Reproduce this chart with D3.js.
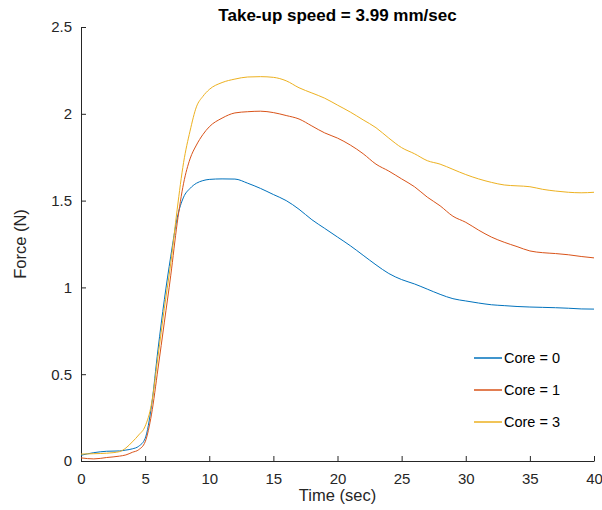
<!DOCTYPE html>
<html lang="en">
<head>
    <meta charset="UTF-8">
    <title>Take-up speed = 3.99 mm/sec</title>
    <script src="https://d3js.org/d3.v7.min.js"></script>
    <style>
        body { margin: 0; background: #fff; font-family: "Liberation Sans", Arial, sans-serif; }
        svg { display: block; }
        .axis path, .axis line { stroke: #262626; }
        .axis text { fill: #262626; font-size: 15px; font-family: "Liberation Sans", Arial, sans-serif; }
    </style>
</head>
<body>
    <svg id="chart" width="602" height="510"></svg>

    <script>
        // time samples (sec)
        const time = [0, 1, 2, 3, 3.5, 4, 4.5, 5, 5.5, 6, 6.5, 7, 7.5, 8, 8.5, 9, 9.5, 10,
            11, 12, 13, 14, 15, 16, 17, 18, 19, 20, 21, 22, 23, 24, 25, 26, 27, 28, 29, 30,
            31, 32, 33, 34, 35, 36, 37, 38, 39, 40];

        // force (N)
        const core0 = [0.033, 0.048, 0.056, 0.058, 0.063, 0.07, 0.085, 0.13, 0.32, 0.64, 0.93, 1.18, 1.40, 1.52, 1.57, 1.60, 1.615, 1.622,
            1.625, 1.624, 1.60, 1.57, 1.535, 1.50, 1.45, 1.39, 1.34, 1.29, 1.24, 1.185, 1.13, 1.08, 1.045, 1.02, 0.99, 0.96, 0.935, 0.922,
            0.91, 0.90, 0.895, 0.89, 0.887, 0.885, 0.883, 0.88, 0.876, 0.875];
        const core1 = [0.018, 0.012, 0.02, 0.028, 0.035, 0.05, 0.065, 0.11, 0.27, 0.53, 0.80, 1.07, 1.37, 1.60, 1.74, 1.82, 1.88, 1.925,
            1.975, 2.005, 2.012, 2.015, 2.007, 1.99, 1.97, 1.93, 1.89, 1.86, 1.82, 1.77, 1.71, 1.67, 1.625, 1.58, 1.52, 1.47, 1.41, 1.375,
            1.33, 1.29, 1.26, 1.235, 1.21, 1.20, 1.195, 1.188, 1.178, 1.17];
        const core3 = [0.04, 0.042, 0.045, 0.054, 0.075, 0.11, 0.15, 0.20, 0.33, 0.60, 0.88, 1.14, 1.45, 1.72, 1.90, 2.04, 2.10, 2.14,
            2.18, 2.20, 2.212, 2.214, 2.21, 2.19, 2.15, 2.12, 2.09, 2.05, 2.01, 1.965, 1.92, 1.86, 1.805, 1.77, 1.73, 1.71, 1.68, 1.65,
            1.625, 1.605, 1.59, 1.585, 1.58, 1.565, 1.555, 1.548, 1.545, 1.548];

        const seriesNames = ["Core = 0", "Core = 1", "Core = 3"];
        const xTicks = [0, 5, 10, 15, 20, 25, 30, 35, 40];
        const yTicks = [0, 0.5, 1, 1.5, 2, 2.5];

        const colors = ["#0072BD", "#D95319", "#EDB120"];
        const allSeries = [core0, core1, core3];

        const margin = { left: 81, right: 8, top: 27, bottom: 49 };
        const width = 602, height = 510;

        const svg = d3.select("#chart");

        const x = d3.scaleLinear().domain([0, 40]).range([margin.left, width - margin.right]);
        const y = d3.scaleLinear().domain([0, 2.5]).range([height - margin.bottom, margin.top]);

        // axes, ticks pointing inward like matlab
        svg.append("g")
            .attr("class", "axis")
            .attr("transform", `translate(0,${y(0)})`)
            .call(d3.axisBottom(x).tickValues(xTicks).tickSizeInner(-5).tickSizeOuter(0).tickPadding(12))
            .call(g => g.selectAll("text").attr("dy", "0.71em"));

        svg.append("g")
            .attr("class", "axis")
            .attr("transform", `translate(${x(0)},0)`)
            .call(d3.axisLeft(y).tickValues(yTicks).tickSizeInner(-5).tickSizeOuter(0).tickPadding(9)
                .tickFormat(d3.format("")));

        const line = d3.line()
            .x((d, i) => x(time[i]))
            .y(d => y(d))
            .curve(d3.curveMonotoneX);

        svg.append("g").selectAll("path")
            .data(allSeries)
            .enter().append("path")
            .attr("d", line)
            .attr("fill", "none")
            .attr("stroke", (d, i) => colors[i])
            .attr("stroke-width", 1);

        // title and labels
        svg.append("text")
            .attr("x", (x(0) + x(40)) / 2)
            .attr("y", 21)
            .attr("text-anchor", "middle")
            .attr("font-size", 17)
            .attr("font-weight", "bold")
            .attr("fill", "#000")
            .text("Take-up speed = 3.99 mm/sec");

        svg.append("text")
            .attr("x", (x(0) + x(40)) / 2)
            .attr("y", 501)
            .attr("text-anchor", "middle")
            .attr("font-size", 16.5)
            .attr("fill", "#262626")
            .text("Time (sec)");

        svg.append("text")
            .attr("transform", `translate(26,${(y(0) + y(2.5)) / 2}) rotate(-90)`)
            .attr("text-anchor", "middle")
            .attr("font-size", 16.5)
            .attr("fill", "#262626")
            .text("Force (N)");

        // legend (no box)
        const legend = svg.append("g").attr("transform", "translate(474,358)");
        seriesNames.forEach((name, i) => {
            const row = legend.append("g").attr("transform", `translate(0,${i * 32})`);
            row.append("line")
                .attr("x1", 0).attr("x2", 28)
                .attr("stroke", colors[i]).attr("stroke-width", 1.5);
            row.append("text")
                .attr("x", 30).attr("y", 5)
                .attr("font-size", 14.5)
                .attr("fill", "#000")
                .text(name);
        });
    </script>
</body>
</html>
